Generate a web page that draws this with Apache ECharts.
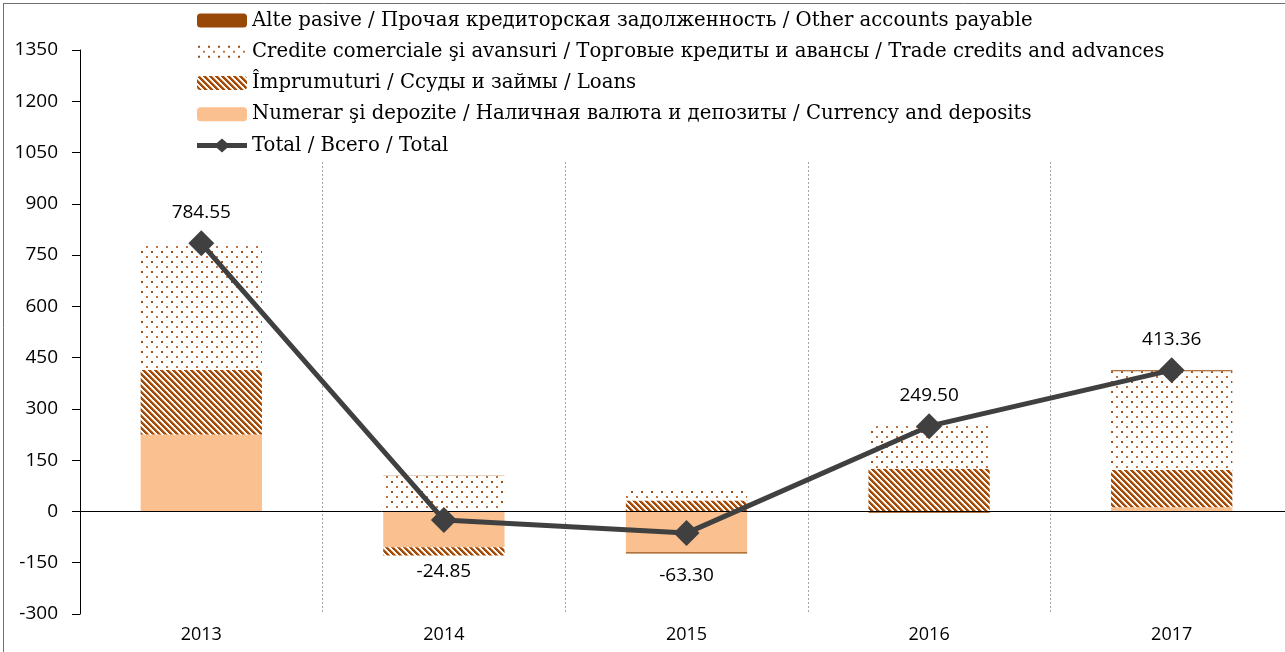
<!DOCTYPE html>
<html>
<head>
<meta charset="utf-8">
<script src="https://cdn.jsdelivr.net/npm/echarts@6/dist/echarts.min.js"></script>
<style>
html,body{margin:0;padding:0;background:#fff;}
#chart{width:1285px;height:652px;}
</style>
</head>
<body>
<div id="chart"></div>
<script>
// ---- data ----
const categories = ['2013', '2014', '2015', '2016', '2017'];
const numerar = [225, -105, -119, -1, 12];
const loans = [189, -24, 32, 125, 109];
const credits = [370.5, 104, 28, 128, 289.36];
const other = [0.05, 0.15, -4.3, -2.5, 3];
const total = [784.55, -24.85, -63.30, 249.50, 413.36];
const yTicks = {min: -300, max: 1350, interval: 150};
const names = {
  other: 'Alte pasive / Прочая кредиторская задолженность / Other accounts payable',
  credits: 'Credite comerciale şi avansuri / Торговые кредиты и авансы / Trade credits and advances',
  loans: 'Împrumuturi / Ссуды и займы / Loans',
  numerar: 'Numerar şi depozite / Наличная валюта и депозиты / Currency and deposits',
  total: 'Total / Всего / Total'
};

// ---- patterns ----
function stripeTile() {
  const c = document.createElement('canvas');
  c.width = 6; c.height = 6;
  const ctx = c.getContext('2d');
  ctx.fillStyle = '#ffffff'; ctx.fillRect(0, 0, 6, 6);
  for (let x = 0; x < 6; x++) for (let y = 0; y < 6; y++) {
    const d = ((x - y) % 6 + 6) % 6;
    if (d < 3) { ctx.fillStyle = '#A14C0B'; ctx.fillRect(x, y, 1, 1); }
    else if (d === 3) { ctx.fillStyle = '#E8B48A'; ctx.fillRect(x, y, 1, 1); }
  }
  return c;
}
function dotTile() {
  const c = document.createElement('canvas');
  c.width = 10; c.height = 10;
  const ctx = c.getContext('2d');
  ctx.fillStyle = '#ffffff'; ctx.fillRect(0, 0, 10, 10);
  ctx.fillStyle = '#A04E10'; ctx.fillRect(1, 1, 2, 2);
  ctx.fillStyle = '#C27440'; ctx.fillRect(6, 6, 2, 2);
  return c;
}
const stripeFill = {image: stripeTile(), repeat: 'repeat'};
const dotFill = {image: dotTile(), repeat: 'repeat'};
const lineDiamondIcon = 'path://M0,4.5L19.86,4.5L25,0L30.14,4.5L50,4.5L50,9.5L30.14,9.5L25,14L19.86,9.5L0,9.5Z';

const chart = echarts.init(document.getElementById('chart'));
const option = {
  animation: false,
  backgroundColor: '#ffffff',
  grid: {left: 80, width: 1213, top: 50, bottom: 38, containLabel: false, outerBoundsMode: 'none'},
  legend: {
    orient: 'vertical',
    left: 197, top: 9.5,
    padding: [0, 6, 4, 0],
    backgroundColor: '#ffffff',
    itemWidth: 50, itemHeight: 14,
    itemGap: 9.25,
    textStyle: {fontFamily: 'DejaVu Serif', fontSize: 19.7, color: '#000', lineHeight: 22},
    data: [names.other, names.credits, names.loans, names.numerar,
      {name: names.total, icon: lineDiamondIcon, itemStyle: {color: '#404040', borderWidth: 0}}]
  },
  xAxis: {
    type: 'category',
    data: categories,
    axisLine: {show: false, onZero: false},
    axisTick: {show: false},
    axisLabel: {fontFamily: 'Open Sans', fontSize: 18, color: '#000', margin: 12},
    splitLine: {show: true, lineStyle: {color: '#a6a6a6', type: [2, 2], width: 1}}
  },
  yAxis: {
    type: 'value',
    min: yTicks.min, max: yTicks.max, interval: yTicks.interval,
    axisLine: {show: true, lineStyle: {color: '#000', width: 1}},
    axisTick: {show: true, length: 8, lineStyle: {color: '#000'}},
    axisLabel: {fontFamily: 'Open Sans', fontSize: 19, color: '#000', margin: 22,
      formatter: v => String(v)},
    splitLine: {show: false}
  },
  graphic: [
    {type: 'line', shape: {x1: 3, y1: 3.5, x2: 1285, y2: 3.5}, style: {stroke: '#707070', lineWidth: 1}, z: 100},
    {type: 'line', shape: {x1: 3.5, y1: 3, x2: 3.5, y2: 652}, style: {stroke: '#707070', lineWidth: 1}, z: 100}
  ],
  series: [
    {
      name: names.numerar, type: 'bar', stack: 's', data: numerar, barWidth: '50%',
      itemStyle: {color: '#FAC090'},
      markLine: {
        silent: true, symbol: 'none', label: {show: false},
        lineStyle: {color: '#000', type: 'solid', width: 1},
        data: [{yAxis: 0}]
      }
    },
    {name: names.loans, type: 'bar', stack: 's', data: loans, itemStyle: {color: stripeFill}},
    {name: names.credits, type: 'bar', stack: 's', data: credits, itemStyle: {color: dotFill}},
    {name: names.other, type: 'bar', stack: 's', data: other, itemStyle: {color: '#984807'}},
    {
      name: names.total, type: 'line', data: total.map((v, i) => {
        const o = {value: v};
        if (v < 0) o.label = {position: 'bottom', distance: i === 1 ? 29 : 20};
        return o;
      }),
      symbol: 'diamond', symbolSize: 26,
      lineStyle: {color: '#404040', width: 5},
      itemStyle: {color: '#404040'},
      z: 5,
      label: {
        show: true, position: 'top', distance: 8,
        fontFamily: 'Open Sans', fontSize: 19, color: '#000',
        formatter: p => p.value.toFixed(2)
      }
    }
  ]
};
chart.setOption(option);
</script>
</body>
</html>
